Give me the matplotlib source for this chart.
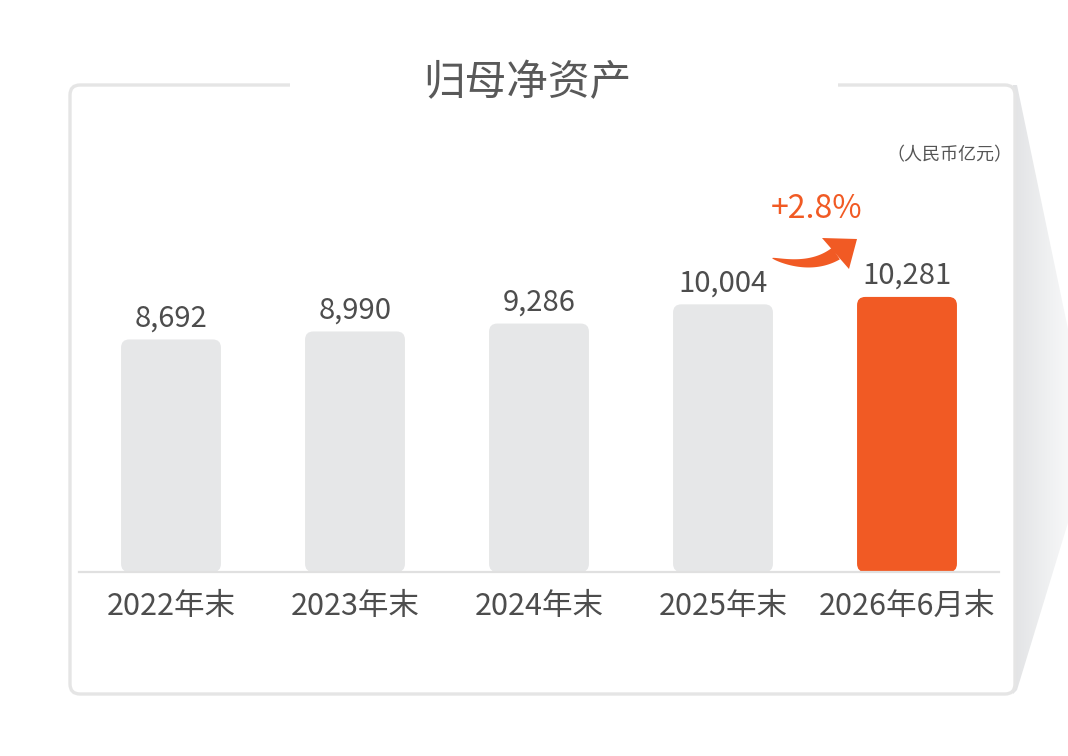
import numpy as np
import matplotlib
matplotlib.use("Agg")
import matplotlib.pyplot as plt
from matplotlib.patches import FancyBboxPatch, Rectangle, Polygon
from matplotlib.colors import LinearSegmentedColormap

plt.rcParams['font.family'] = ['Noto Sans CJK SC', 'DejaVu Sans']

categories = ['2022年末', '2023年末', '2024年末', '2025年末', '2026年6月末']
values = [8692, 8990, 9286, 10004, 10281]
value_labels = ['8,692', '8,990', '9,286', '10,004', '10,281']
title = '归母净资产'
unit = '（人民币亿元）'
growth = '+2.8%'

grey = '#e6e7e8'
orange = '#f15a24'
text_col = '#4d4d4d'

W, H = 1068, 756
fig = plt.figure(figsize=(W / 100, H / 100), dpi=100)

# background layer in pixel coordinates (frame, shadow, title, arrow)
bg = fig.add_axes([0, 0, 1, 1])
bg.axis('off')

# right-hand shadow with a fading gradient
shadow = Polygon([(1013, 85), (1017, 85), (1092, 444), (1017, 690), (1013, 694)],
                 closed=True, fc='none', ec='none')
bg.add_patch(shadow)
grad = np.linspace(0, 1, 256)[None, :]
cmap = LinearSegmentedColormap.from_list('sh', ['#e2e3e5', '#f1f2f3', '#ffffff'])
im = bg.imshow(grad, extent=(1013, 1092, 694, 85), cmap=cmap, aspect='auto', zorder=0)
im.set_clip_path(shadow)

frame = FancyBboxPatch((70, 85), 945, 609, boxstyle='round,pad=0,rounding_size=10',
                       fc='white', ec='#e5e5e5', lw=2.4, zorder=1)
bg.add_patch(frame)
bg.add_patch(Rectangle((290, 78), 548, 14, fc='white', ec='none', zorder=2))

bg.text(527, 84, title, fontsize=30, color='#595959', ha='center', va='center', zorder=3)
bg.text(1012, 155, unit, fontsize=13, color='#555555', ha='right', va='center',
        style='italic', zorder=3)
bg.text(817, 209, growth, fontsize=23, color=orange, ha='center', va='center', zorder=3)

# curved arrow: tapered body along a quadratic curve plus a triangular head
p0 = np.array([772.0, 258.0])
p1 = np.array([811.0, 270.0])
p2 = np.array([836.0, 253.5])
s = np.linspace(0, 1, 60)[:, None]
curve = (1 - s) ** 2 * p0 + 2 * (1 - s) * s * p1 + s ** 2 * p2
tang = 2 * (1 - s) * (p1 - p0) + 2 * s * (p2 - p1)
norm = np.column_stack([-tang[:, 1], tang[:, 0]]) / np.linalg.norm(tang, axis=1)[:, None]
half = 7.0 * s ** 0.6
body = np.vstack([curve + norm * half, (curve - norm * half)[::-1]])
bg.add_patch(Polygon(body, closed=True, fc=orange, ec='none', zorder=3))
bg.add_patch(Polygon([(822, 238), (857, 239), (849, 269)], closed=True,
                     fc=orange, ec='none', zorder=3))

bg.set_xlim(0, W)
bg.set_ylim(H, 0)

# bar chart axes
ax = fig.add_axes([79 / W, 184 / H, 920 / W, 442 / H])
ax.set_facecolor('none')
ax.set_xlim(-0.5, len(values) - 0.5)
ax.set_ylim(0, 16520)
ax.axis('off')

# aspect between data units so that rounded corners stay circular
x0, y0 = ax.transData.transform((0, 0))
x1, y1 = ax.transData.transform((1, 1000))
aspect = (1000 / (y1 - y0)) / (1 / (x1 - x0))

bar_w = 0.543
for i, (v, lab) in enumerate(zip(values, value_labels)):
    col = orange if i == len(values) - 1 else grey
    bar = FancyBboxPatch((i - bar_w / 2, 0), bar_w, v,
                         boxstyle='round,pad=0,rounding_size=0.045',
                         mutation_aspect=aspect, fc=col, ec='none', zorder=2)
    ax.add_patch(bar)
    ax.text(i, v + 220, lab, fontsize=21, color=text_col, ha='center', va='bottom', zorder=3)
    ax.text(i, -1300, categories[i], fontsize=22, color=text_col, ha='center', va='center',
            clip_on=False, zorder=3)

ax.axhline(0, color='#e0e0e0', lw=1.6, zorder=4, clip_on=False)

fig.savefig('out.png', dpi=100, facecolor='white')
